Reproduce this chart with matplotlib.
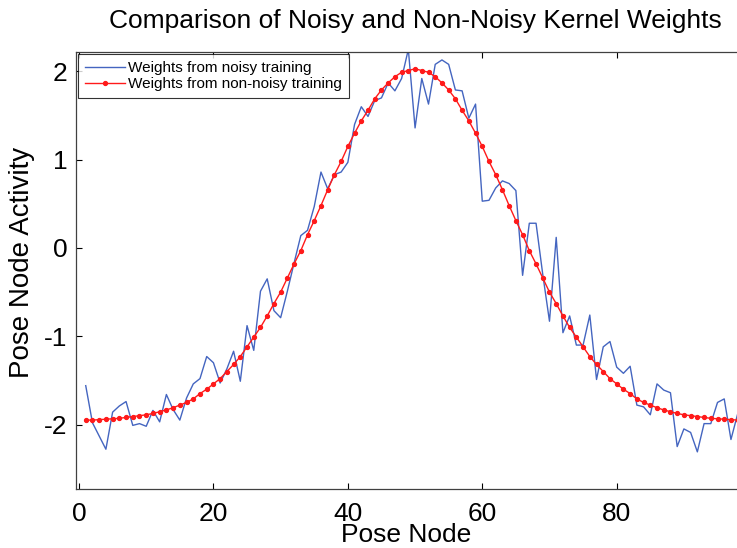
import matplotlib
matplotlib.use("Agg")
import matplotlib.pyplot as plt

plt.rcParams['font.family'] = ['Liberation Sans', 'DejaVu Sans']
plt.rcParams['axes.unicode_minus'] = False

# Dados (nós 1..98)
nos = list(range(1, 99))

pesos_ruido = [
    -1.56, -1.98, -2.13, -2.28, -1.86, -1.79, -1.74, -2.01, -1.99, -2.02,
    -1.84, -1.97, -1.66, -1.83, -1.95, -1.70, -1.54, -1.48, -1.23, -1.30,
    -1.53, -1.37, -1.17, -1.51, -0.88, -1.16, -0.49, -0.35, -0.71, -0.79,
    -0.49, -0.17, 0.14, 0.20, 0.47, 0.86, 0.67, 0.83, 0.86, 0.97,
    1.40, 1.60, 1.49, 1.67, 1.70, 1.87, 1.78, 1.92, 2.25, 1.36,
    1.92, 1.63, 2.08, 2.13, 2.08, 1.79, 1.78, 1.47, 1.63, 0.53,
    0.54, 0.68, 0.76, 0.73, 0.65, -0.31, 0.28, 0.28, -0.30, -0.83,
    0.12, -0.96, -0.77, -1.10, -1.10, -0.76, -1.49, -1.12, -1.06, -1.35,
    -1.42, -1.34, -1.78, -1.80, -1.89, -1.54, -1.61, -1.64, -2.25, -2.05,
    -2.09, -2.31, -1.99, -1.99, -1.75, -1.71, -2.17, -1.88,
]

pesos_sem_ruido = [
    -1.95, -1.95, -1.945, -1.94, -1.935, -1.93, -1.92, -1.91, -1.90, -1.89,
    -1.875, -1.855, -1.835, -1.81, -1.78, -1.75, -1.71, -1.65, -1.60, -1.54,
    -1.48, -1.40, -1.32, -1.23, -1.12, -1.01, -0.90, -0.77, -0.63, -0.50,
    -0.34, -0.18, -0.03, 0.15, 0.31, 0.48, 0.66, 0.83, 0.98, 1.15,
    1.30, 1.44, 1.56, 1.69, 1.79, 1.87, 1.94, 1.99, 2.01, 2.03,
    2.01, 1.99, 1.94, 1.87, 1.79, 1.69, 1.56, 1.44, 1.30, 1.15,
    0.98, 0.83, 0.66, 0.48, 0.31, 0.15, -0.03, -0.18, -0.34, -0.50,
    -0.63, -0.77, -0.90, -1.01, -1.12, -1.23, -1.32, -1.40, -1.48, -1.54,
    -1.60, -1.65, -1.71, -1.75, -1.78, -1.81, -1.835, -1.855, -1.875, -1.89,
    -1.90, -1.91, -1.92, -1.93, -1.935, -1.94, -1.945, -1.95,
]

xticks = [0, 20, 40, 60, 80]
yticks = [-2, -1, 0, 1, 2]

fig = plt.figure(figsize=(7.37, 5.48), dpi=100)
ax = fig.add_axes([0.1031, 0.1068, 0.8969, 0.7983])

ax.plot(nos, pesos_ruido, color='#4465C0', lw=1.0, label='Weights from noisy training')
ax.plot(nos, pesos_sem_ruido, color='#FF1A1A', lw=1.0, marker='o', ms=2.8,
        mec='#FF1A1A', mfc='#FF1A1A', label='Weights from non-noisy training')

ax.set_xlim(-0.45, 97.9)
ax.set_ylim(-2.736, 2.22)
ax.set_xticks(xticks)
ax.set_yticks(yticks)
ax.tick_params(direction='in', length=4, width=0.8, top=True, labelsize=19, colors='black')
ax.tick_params(axis='x', pad=9)
ax.tick_params(axis='y', pad=6)
for lado in ['left', 'top', 'bottom']:
    ax.spines[lado].set_color('#404040')
    ax.spines[lado].set_linewidth(0.9)
ax.spines['right'].set_visible(False)

ax.set_xlabel('Pose Node', fontsize=19, labelpad=-2)
ax.set_ylabel('Pose Node Activity', fontsize=20)
ax.yaxis.set_label_coords(-0.062, 0.52)
ax.set_title('Comparison of Noisy and Non-Noisy Kernel Weights', fontsize=19, x=0.513, pad=17)

leg = ax.legend(loc='upper left', fontsize=11, frameon=True, fancybox=False,
                borderaxespad=0.15, handlelength=2.6, handletextpad=0.2,
                labelspacing=0.15, borderpad=0.45)
leg.get_frame().set_edgecolor('black')
leg.get_frame().set_linewidth(0.8)

fig.savefig('out.png', dpi=100)
